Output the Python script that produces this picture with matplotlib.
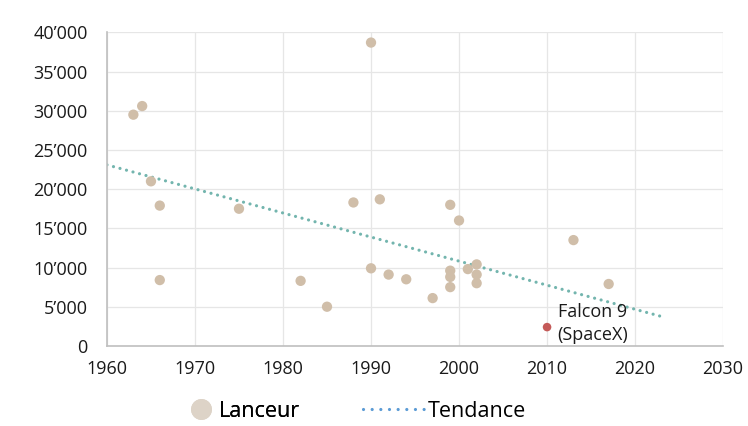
import matplotlib
matplotlib.use("Agg")
import matplotlib.pyplot as plt
from matplotlib.lines import Line2D
from matplotlib.ticker import FuncFormatter

plt.rcParams['font.family'] = ['Open Sans', 'DejaVu Sans']

# --------------------------------
# Data
# --------------------------------
years = [1963, 1964, 1965, 1966, 1966, 1975, 1982, 1985, 1988, 1990,
         1990, 1991, 1992, 1994, 1997, 1999, 1999, 1999, 1999, 2000,
         2001, 2002, 2002, 2002, 2013, 2017]
costs = [29500, 30600, 21000, 17900, 8400, 17500, 8300, 5000, 18300, 38700,
         9900, 18700, 9100, 8500, 6100, 18000, 9600, 8800, 7500, 16000,
         9800, 10400, 9100, 8000, 13500, 7900]

falcon_year = [2010]
falcon_cost = [2400]
falcon_label = "Falcon 9\n(SpaceX)"

# trend line end points
trend_years = [1960, 2023.5]
trend_costs = [23100, 3600]

# --------------------------------
# Plot
# --------------------------------
fig = plt.figure(figsize=(7.48, 4.26), dpi=100)
ax = fig.add_axes([0.143, 0.188, 0.8237, 0.736])

ax.plot(trend_years, trend_costs, color="#73b5ae", linewidth=2.3,
        linestyle=(0, (0.01, 2.1)), dash_capstyle="round", zorder=2)
ax.scatter(years, costs, s=55, color="#d0bea9", edgecolors="none", zorder=3)
ax.scatter(falcon_year, falcon_cost, s=38, color="#c45a58", edgecolors="none", zorder=4)
ax.text(falcon_year[0] + 1.2, falcon_cost[0] - 2100, falcon_label,
        fontsize=13, color="#1a1a1a", va="bottom", ha="left", linespacing=1.3)

ax.set_xlim(1960, 2030)
ax.set_ylim(0, 40000)
ax.set_xticks(range(1960, 2031, 10))
ax.set_yticks(range(0, 40001, 5000))
ax.yaxis.set_major_formatter(FuncFormatter(lambda v, p: f"{int(v):,}".replace(",", "\u2019")))

ax.grid(True, color="#e6e6e6", linewidth=0.9)
ax.set_axisbelow(True)
for side in ["top", "right"]:
    ax.spines[side].set_visible(False)
for side in ["left", "bottom"]:
    ax.spines[side].set_color("#bfbfbf")
    ax.spines[side].set_linewidth(1.2)
ax.tick_params(axis="both", length=0, labelsize=13, colors="#1a1a1a")
ax.tick_params(axis="y", pad=14)
ax.tick_params(axis="x", pad=10)

# Legend: two pieces so each handle gets its own width
h_lanceur = Line2D([], [], marker="o", linestyle="none", markersize=15,
                   markerfacecolor="#ddd3c7", markeredgecolor="none")
h_tendance = Line2D([], [], color="#5b9bd5", linewidth=2.3,
                    linestyle=(0, (0.01, 2.7)), dash_capstyle="round")
leg1 = fig.legend([h_lanceur], ["Lanceur"], loc="center left", bbox_to_anchor=(0.254, 0.034),
                  frameon=False, fontsize=15.5, handlelength=1.0, handletextpad=0.35,
                  borderpad=0, borderaxespad=0)
fig.add_artist(leg1)
fig.legend([h_tendance], ["Tendance"], loc="center left", bbox_to_anchor=(0.485, 0.034),
           frameon=False, fontsize=15.5, handlelength=2.9, handletextpad=0.1,
           borderpad=0, borderaxespad=0)

fig.savefig("out.png", dpi=100)
